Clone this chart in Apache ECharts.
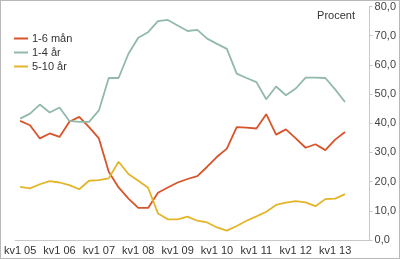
<!DOCTYPE html>
<html><head><meta charset="utf-8">
<script src="https://cdn.jsdelivr.net/npm/echarts@6/dist/echarts.min.js"></script>
<style>html,body{margin:0;padding:0;background:#fff}#c{width:400px;height:259px;box-sizing:border-box;border:1px solid #b8b8b8}</style>
</head><body><div id="c"></div>
<script>
const years = ['05','06','07','08','09','10','11','12','13'];
const categories = [];
years.forEach(y => { for (let q = 1; q <= 4; q++) categories.push('kv' + q + ' ' + y); });
const yTicks = [0, 10, 20, 30, 40, 50, 60, 70, 80];
const seriesNames = ['1-6 mån', '1-4 år', '5-10 år'];
const man1_6 = [40.8,39.3,34.8,36.5,35.3,40.5,42.2,38.7,34.8,23.4,18.0,14.2,11.0,11.0,16.2,18.0,19.7,20.9,21.9,25.1,28.5,31.3,38.7,38.5,38.2,43.1,36.1,37.9,34.8,31.6,32.8,30.8,34.4,37.0];
const ar1_4 = [41.6,43.3,46.4,43.7,45.4,40.8,40.5,40.5,44.4,55.5,55.5,63.8,69.3,71.2,75.0,75.4,73.5,71.6,72.0,69.0,67.2,65.5,57.0,55.5,54.1,48.2,52.6,49.6,51.9,55.6,55.6,55.5,51.6,47.3];
const ar5_10 = [18.2,17.7,19.1,20.2,19.7,18.8,17.4,20.3,20.5,21.1,26.8,22.6,20.3,17.9,9.1,7.1,7.1,8.0,6.6,6.0,4.3,3.2,4.8,6.6,8.1,9.7,12.0,12.8,13.3,12.9,11.6,14.0,14.2,15.7];
const colors = ['#d9542b', '#92b9ab', '#e3b52a'];

const chart = echarts.init(document.getElementById('c'), null, {renderer: 'canvas'});
const mk = (name, data, i) => ({
  name, type: 'line', data, showSymbol: false, symbol: 'none',
  lineStyle: {color: colors[i], width: 1.8}, itemStyle: {color: colors[i]}
});
chart.setOption({
  animation: false,
  grid: {left: 11, right: 29, top: 5, bottom: 18, containLabel: false},
  legend: {
    orient: 'vertical', left: 13, top: 32, itemWidth: 14, itemHeight: 2, itemGap: 3, padding: 0,
    icon: 'rect',
    textStyle: {fontFamily: 'Liberation Sans, Arial', fontSize: 11, color: '#333', padding: [0, 0, 0, -1]},
    data: seriesNames
  },
  xAxis: {
    type: 'category', data: categories, boundaryGap: true,
    axisLine: {lineStyle: {color: '#c8c8c8'}},
    axisTick: {interval: 3, length: 3, lineStyle: {color: '#c8c8c8'}},
    axisLabel: {interval: 3, margin: 5, fontFamily: 'Liberation Sans, Arial', fontSize: 11, color: '#333'}
  },
  yAxis: {
    type: 'value', position: 'right', min: 0, max: 80, interval: 10,
    axisLine: {show: true, lineStyle: {color: '#c8c8c8'}},
    axisTick: {show: true, length: 3, lineStyle: {color: '#c8c8c8'}},
    splitLine: {show: false},
    axisLabel: {margin: 5, fontFamily: 'Liberation Sans, Arial', fontSize: 11, color: '#444',
      formatter: v => yTicks.includes(v) ? v.toFixed(1).replace('.', ',') : ''}
  },
  graphic: [{type: 'text', right: 44, top: 9, style: {text: 'Procent', font: '11px Liberation Sans, Arial', fill: '#333'}}],
  series: [mk(seriesNames[0], man1_6, 0), mk(seriesNames[1], ar1_4, 1), mk(seriesNames[2], ar5_10, 2)]
});
</script></body></html>
